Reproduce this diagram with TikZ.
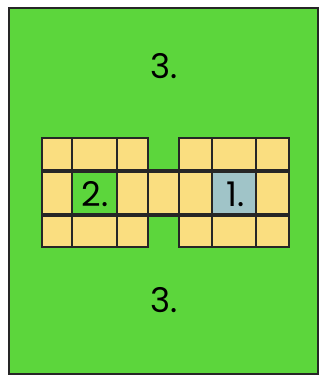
\documentclass[tikz,border=0pt]{standalone}
\usepackage{fontspec}
\setmainfont{Poppins}
\definecolor{lawngreen}{RGB}{92,214,60}
\definecolor{cellyellow}{RGB}{250,222,128}
\definecolor{cellblue}{RGB}{160,196,200}
\begin{document}
\begin{tikzpicture}[x=1pt, y=-1pt,
    plotlabel/.style={font=\fontsize{34}{34}\selectfont, inner sep=0pt},
    thinline/.style={draw=black!85, line width=1.3pt},
    thickline/.style={draw=black!85, line width=3.5pt}]
    \useasboundingbox (0,0) rectangle (320,379);

    % the lawn
    \filldraw[fill=lawngreen, draw=black!85, line width=1.3pt] (9,8) rectangle (318,374);

    % the two beds and the strip between them
    \fill[cellyellow] (42,138) rectangle (148,247);
    \fill[cellyellow] (179,138) rectangle (289,247);
    \fill[cellyellow] (148,171) rectangle (179,215);
    \fill[lawngreen] (72,171) rectangle (117,215);
    \fill[cellblue] (212,171) rectangle (256,215);

    \draw[thinline] (42,138) rectangle (148,247);
    \draw[thinline] (179,138) rectangle (289,247);
    \foreach \x in {72,117,212,256}
        \draw[thinline] (\x,138) -- (\x,247);
    \draw[thickline] (42,171) -- (289,171);
    \draw[thickline] (42,215) -- (289,215);

    \node[plotlabel] (threetop) at (164,66) {3.};
    \node[plotlabel] (threebottom) at (164,300) {3.};
    \node[plotlabel] (two) at (95,194) {2.};
    \node[plotlabel] (one) at (236,194) {1.};
\end{tikzpicture}
\end{document}
